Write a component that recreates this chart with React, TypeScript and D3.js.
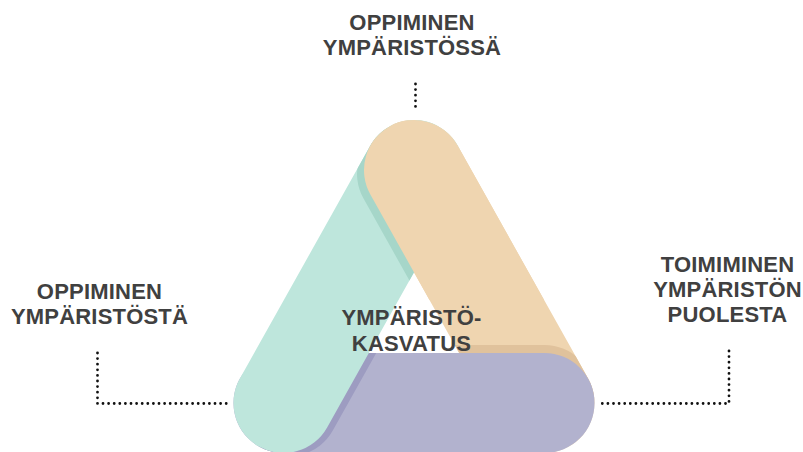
import React from "react";
import * as d3 from "d3";

// Labels
const topLabel = ["OPPIMINEN", "YMPÄRISTÖSSÄ"];
const leftLabel = ["OPPIMINEN", "YMPÄRISTÖSTÄ"];
const rightLabel = ["TOIMIMINEN", "YMPÄRISTÖN", "PUOLESTA"];
const centerLabel = ["YMPÄRISTÖ-", "KASVATUS"];

// Band colours: [fill, shadow cast onto it]
const greenColors = ["#bee6dc", "#a6d6c9"];
const orangeColors = ["#efd5b0", "#e0c29c"];
const purpleColors = ["#b2b2ce", "#9d9cc1"];

const W = 803;
const H = 452;
const FONT = "'Liberation Sans', Arial, sans-serif";
const TEXT = "#404040";

type Pt = [number, number];

function capsule(p1: Pt, p2: Pt, r: number) {
  const ang = Math.atan2(p2[1] - p1[1], p2[0] - p1[0]);
  const p = d3.path();
  p.arc(p2[0], p2[1], r, ang - Math.PI / 2, ang + Math.PI / 2);
  p.arc(p1[0], p1[1], r, ang + Math.PI / 2, ang + (3 * Math.PI) / 2);
  p.closePath();
  return p.toString();
}

function Label({ lines, x, y, lh = 25.5 }: { lines: string[]; x: number; y: number; lh?: number }) {
  return (
    <text
      x={x}
      y={y}
      textAnchor="middle"
      fontFamily={FONT}
      fontWeight="bold"
      fontSize={22}
      letterSpacing={0.2}
      fill={TEXT}
    >
      {lines.map((l, i) => (
        <tspan key={i} x={x} y={y + i * lh}>
          {l}
        </tspan>
      ))}
    </text>
  );
}

export default function App() {
  // triangle of band centre lines
  const r = 50;
  const cx = 414;
  const apexY = 170;
  const baseY = 403;
  const half = 130.5;
  const A: Pt = [cx, apexY];
  const B: Pt = [cx - half, baseY];
  const C: Pt = [cx + half, baseY];

  const green = capsule(B, A, r);
  const orange = capsule(A, C, r);
  const purple = capsule(B, C, r);

  const side = Math.hypot(half, baseY - apexY);
  const ux = half / side;
  const uy = (baseY - apexY) / side;
  // shadow offsets, perpendicular to the band that casts them
  const shOrange = [-uy * 8, ux * 8];
  const shGreen = [uy * 6.5, ux * 6.5];
  const shPurple = [0, -8];

  const dot = {
    fill: "none",
    stroke: "#111",
    strokeWidth: 2.8,
    strokeLinecap: "round" as const,
    strokeDasharray: "0 5.6",
  };

  const lineGen = d3.line();

  return (
    <svg
      width={W}
      height={H}
      style={{ position: "absolute", left: 0, top: 0, background: "#fff" }}
    >
      <defs>
        <clipPath id="clipGreen">
          <path d={green} />
        </clipPath>
        <clipPath id="clipOrange">
          <path d={orange} />
        </clipPath>
        <clipPath id="clipPurple">
          <path d={purple} />
        </clipPath>
        <clipPath id="clipTop">
          <rect x={0} y={0} width={W} height={300} />
        </clipPath>
      </defs>

      {/* orange, with purple's shadow on it */}
      <path d={orange} fill={orangeColors[0]} />
      <g clipPath="url(#clipOrange)">
        <path d={purple} fill={orangeColors[1]} transform={`translate(${shPurple[0]},${shPurple[1]})`} />
      </g>

      {/* purple, with green's shadow on it */}
      <path d={purple} fill={purpleColors[0]} />
      <g clipPath="url(#clipPurple)">
        <path d={green} fill={purpleColors[1]} transform={`translate(${shGreen[0]},${shGreen[1]})`} />
      </g>

      {/* green */}
      <path d={green} fill={greenColors[0]} />

      {/* orange back over green at the top */}
      <g clipPath="url(#clipTop)">
        <g clipPath="url(#clipGreen)">
          <path d={orange} fill={greenColors[1]} transform={`translate(${shOrange[0]},${shOrange[1]})`} />
        </g>
        <path d={orange} fill={orangeColors[0]} />
      </g>

      {/* dotted connectors */}
      <path d={lineGen([[415.5, 84], [415.5, 110]]) || ""} {...dot} />
      <path d={lineGen([[97.5, 353], [97.5, 403.5], [229, 403.5]]) || ""} {...dot} />
      <path d={lineGen([[729, 351], [729, 403.5], [597, 403.5]]) || ""} {...dot} />

      <Label lines={topLabel} x={412} y={29.5} />
      <Label lines={leftLabel} x={99.5} y={298.5} />
      <Label lines={rightLabel} x={727.5} y={272} lh={25} />
      <Label lines={centerLabel} x={411.5} y={325} lh={26} />
    </svg>
  );
}
